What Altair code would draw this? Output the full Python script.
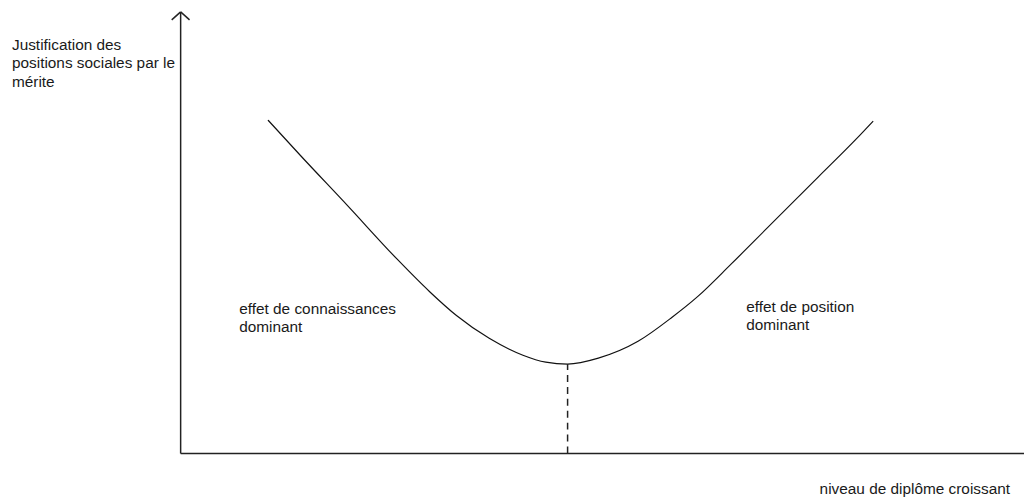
import altair as alt
import pandas as pd

# Curve: niveau de diplôme (x, from the vertical axis) vs justification par le mérite (y, above the horizontal axis)
curve_x = [88, 121, 168, 218, 251, 278, 311, 345, 368, 390, 421, 461, 495, 521, 555, 591, 643, 681, 698]
curve_y = [336, 300, 250, 196, 163, 139, 116, 99, 92, 90, 96, 113, 137, 158, 191, 227, 279, 317, 335]

# Minimum of the curve (dashed marker)
min_x = 390
min_y = 90

# Axis extents
x_axis_end = 850
y_axis_end = 445
arrow_dx = 9
arrow_dy = 8

# Texts
label_texts = ["Justification des\npositions sociales par le\nmérite",
               "effet de connaissances\ndominant",
               "effet de position\ndominant",
               "niveau de diplôme croissant"]
label_x = [-170, 59, 570, 644]
label_y = [407, 141, 143, -41]

X_DOMAIN = [-174, 850]
Y_DOMAIN = [-44, 447]

xs = alt.Scale(domain=X_DOMAIN, nice=False, zero=False)
ys = alt.Scale(domain=Y_DOMAIN, nice=False, zero=False)

curve_df = pd.DataFrame({"x": curve_x, "y": curve_y})
axes_df = pd.DataFrame({
    "x": [0, 0, 0, 0],
    "y": [0, 0, y_axis_end, y_axis_end],
    "x2": [0, x_axis_end, -arrow_dx, arrow_dx],
    "y2": [y_axis_end, 0, y_axis_end - arrow_dy, y_axis_end - arrow_dy],
})
dash_df = pd.DataFrame({"x": [min_x], "y": [0], "y2": [min_y]})
text_df = pd.DataFrame({"t": label_texts, "x": label_x, "y": label_y})

X = lambda f: alt.X(f, type="quantitative", scale=xs, axis=None)
Y = lambda f: alt.Y(f, type="quantitative", scale=ys, axis=None)

axes = alt.Chart(axes_df).mark_rule(color="#222222", strokeWidth=1.5).encode(
    x=X("x"), y=Y("y"), x2="x2", y2="y2")

dash = alt.Chart(dash_df).mark_rule(color="#222222", strokeWidth=1.5, strokeDash=[7, 5]).encode(
    x=X("x"), y=Y("y"), y2="y2")

line = alt.Chart(curve_df).mark_line(color="#111111", strokeWidth=1.2, interpolate="monotone").encode(
    x=X("x"), y=Y("y"), order="x:Q")

texts = alt.Chart(text_df).mark_text(
    align="left", baseline="alphabetic", font="Liberation Sans", fontSize=15.5,
    lineBreak="\n", lineHeight=19, color="#1a1a1a"
).encode(x=X("x"), y=Y("y"), text="t:N")

chart = alt.layer(axes, dash, line, texts).properties(
    width=1024, height=491,
    autosize=alt.AutoSizeParams(type="none"),
    padding=0,
    background="white",
).configure_view(stroke=None)

chart.save("out.html", embed_options={"renderer": "svg", "actions": False})
